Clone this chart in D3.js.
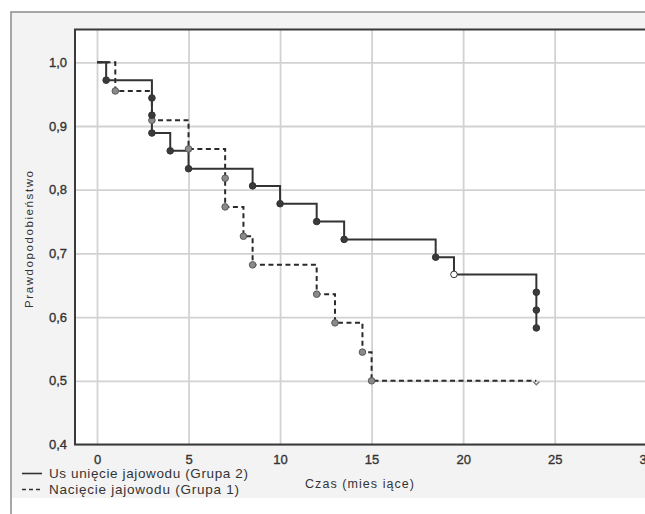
<!DOCTYPE html>
<html>
<head>
<meta charset="utf-8">
<script src="https://cdn.jsdelivr.net/npm/d3@7"></script>
<style>
  html, body { margin: 0; padding: 0; background: #ffffff; overflow: hidden; }
  svg { display: block; font-family: "Liberation Sans", Arial, sans-serif; }
</style>
</head>
<body>
<svg id="chart" width="645" height="514"></svg>
<script>
// ---- data ----
const xTicks = [0, 5, 10, 15, 20, 25, 30];
const yTicks = [0.4, 0.5, 0.6, 0.7, 0.8, 0.9, 1.0];

// Group 2: Usunięcie jajowodu (solid) – step curve
const g2Times = [0, 0.5, 3, 4, 5, 8.5, 10, 12, 13.5, 18.5, 19.5, 24];
const g2Surv  = [1, 0.972, 0.889, 0.861, 0.833, 0.806, 0.778, 0.750, 0.722, 0.694, 0.667, 0.583];
// Group 2 markers
const g2MarkT = [0.5, 3, 3, 3, 4, 5, 8.5, 10, 12, 13.5, 18.5, 19.5, 24, 24, 24];
const g2MarkS = [0.972, 0.944, 0.917, 0.889, 0.861, 0.833, 0.806, 0.778, 0.750, 0.722, 0.694, 0.667, 0.639, 0.611, 0.583];

// Group 1: Nacięcie jajowodu (dashed) – step curve
const g1Times = [0, 1, 3, 5, 7, 8, 8.5, 12, 13, 14.5, 15, 24];
const g1Surv  = [1, 0.955, 0.909, 0.864, 0.773, 0.727, 0.682, 0.636, 0.591, 0.545, 0.5, 0.5];
// Group 1 markers
const g1MarkT = [1, 3, 5, 7, 7, 8, 8.5, 12, 13, 14.5, 15];
const g1MarkS = [0.955, 0.909, 0.864, 0.818, 0.773, 0.727, 0.682, 0.636, 0.591, 0.545, 0.5];

const legendLabels = ["Us unięcie jajowodu (Grupa 2)", "Nacięcie jajowodu (Grupa 1)"];
const xTitle = "Czas  (mies iące)";
const yTitle = "Prawdopodobieństwo";

// ---- layout ----
const svg = d3.select("#chart");
const plot = { left: 75, top: 29.5, bottom: 444.5, right: 680 };

const x = d3.scaleLinear().domain([0, 30]).range([97, 646.2]);
const y = d3.scaleLinear().domain([0.4, 1.0]).range([444.5, 62.3]);

// outer panel
svg.append("rect").attr("x", 11).attr("y", 12).attr("width", 700).attr("height", 600)
  .attr("fill", "#ffffff").attr("stroke", "#8a8a8a").attr("stroke-width", 1.5);
svg.append("rect").attr("x", 12).attr("y", 13).attr("width", 700).attr("height", 485)
  .attr("fill", "#f3f3f3");

// plot area
svg.append("rect").attr("x", plot.left).attr("y", plot.top)
  .attr("width", plot.right - plot.left).attr("height", plot.bottom - plot.top)
  .attr("fill", "#ffffff");

// gridlines via axes
svg.append("g").attr("transform", `translate(0,${plot.bottom})`)
  .call(d3.axisBottom(x).tickValues(xTicks).tickSize(-(plot.bottom - plot.top)).tickFormat(""))
  .call(g => g.select(".domain").remove())
  .call(g => g.selectAll("line").attr("stroke", "#d2d2d2").attr("stroke-width", 1.8));
svg.append("g").attr("transform", `translate(${plot.left},0)`)
  .call(d3.axisLeft(y).tickValues(yTicks).tickSize(-(plot.right - plot.left)).tickFormat(""))
  .call(g => g.select(".domain").remove())
  .call(g => g.selectAll("line").attr("stroke", "#d2d2d2").attr("stroke-width", 1.8));

// frame
svg.append("path")
  .attr("d", `M${plot.right},${plot.top}H${plot.left}V${plot.bottom}H${plot.right}`)
  .attr("fill", "none").attr("stroke", "#3a3a3a").attr("stroke-width", 2);

// tick labels
const xAxis = svg.append("g").attr("transform", `translate(0,${plot.bottom})`)
  .call(d3.axisBottom(x).tickValues(xTicks).tickSize(0).tickPadding(10).tickFormat(d => String(d)));
xAxis.select(".domain").remove();
xAxis.selectAll("text").attr("font-size", 13).attr("fill", "#333")
  .attr("stroke", "#333").attr("stroke-width", 0.35)
  .attr("font-family", "Liberation Sans, Arial, sans-serif");

const yAxis = svg.append("g").attr("transform", `translate(${plot.left},0)`)
  .call(d3.axisLeft(y).tickValues(yTicks).tickSize(0).tickPadding(8)
    .tickFormat(d => d.toFixed(1).replace(".", ",")));
yAxis.select(".domain").remove();
yAxis.selectAll("text").attr("font-size", 13).attr("fill", "#333")
  .attr("stroke", "#333").attr("stroke-width", 0.35)
  .attr("font-family", "Liberation Sans, Arial, sans-serif");

// axis titles
svg.append("text").attr("x", 359.5).attr("y", 487.5).attr("text-anchor", "middle")
  .attr("font-size", 12.5).attr("fill", "#333")
  .attr("textLength", 109).attr("lengthAdjust", "spacing").text(xTitle);
svg.append("text").attr("transform", "translate(33,239.5) rotate(-90)")
  .attr("text-anchor", "middle").attr("font-size", 11.5).attr("fill", "#333")
  .attr("textLength", 137).attr("lengthAdjust", "spacing").text(yTitle);

// step curves
const line = d3.line().x(d => x(d[0])).y(d => y(d[1])).curve(d3.curveStepAfter);
const g2 = g2Times.map((t, i) => [t, g2Surv[i]]);
const g1 = g1Times.map((t, i) => [t, g1Surv[i]]);

svg.append("path").datum(g1).attr("d", line).attr("fill", "none")
  .attr("stroke", "#2a2a2a").attr("stroke-width", 2).attr("stroke-dasharray", "5,3.5");
svg.append("path").datum(g2).attr("d", line).attr("fill", "none")
  .attr("stroke", "#333").attr("stroke-width", 2);

// cap at start of solid line
svg.append("line").attr("x1", x(0)).attr("x2", x(0.65)).attr("y1", y(1)).attr("y2", y(1))
  .attr("stroke", "#333").attr("stroke-width", 2);

// markers
svg.append("g").selectAll("circle").data(g1MarkT.map((t, i) => [t, g1MarkS[i]]))
  .join("circle").attr("cx", d => x(d[0])).attr("cy", d => y(d[1])).attr("r", 3.3)
  .attr("fill", "#8a8a8a").attr("stroke", "#5a5a5a").attr("stroke-width", 1);
svg.append("path").attr("d", `M${x(24) - 3},${y(0.5) + 1}L${x(24)},${y(0.5) + 4}L${x(24) + 3},${y(0.5) + 1}`)
  .attr("fill", "none").attr("stroke", "#777").attr("stroke-width", 1.3);
svg.append("g").selectAll("circle").data(g2MarkT.map((t, i) => [t, g2MarkS[i]]))
  .join("circle").attr("cx", d => x(d[0])).attr("cy", d => y(d[1])).attr("r", 3.3)
  .attr("fill", (d, i) => (i === 11 ? "#ffffff" : "#3a3a3a"))
  .attr("stroke", "#333").attr("stroke-width", 1);

// legend
const legend = svg.append("g");
legend.append("line").attr("x1", 22).attr("x2", 42).attr("y1", 473.5).attr("y2", 473.5)
  .attr("stroke", "#333").attr("stroke-width", 1.6);
legend.append("line").attr("x1", 22).attr("x2", 42).attr("y1", 489.5).attr("y2", 489.5)
  .attr("stroke", "#333").attr("stroke-width", 1.6).attr("stroke-dasharray", "4,3");
legend.append("text").attr("x", 49).attr("y", 478).attr("font-size", 13.5).attr("fill", "#333")
  .attr("textLength", 199).attr("lengthAdjust", "spacing").text(legendLabels[0]);
legend.append("text").attr("x", 49).attr("y", 494).attr("font-size", 13.5).attr("fill", "#333")
  .attr("textLength", 190).attr("lengthAdjust", "spacing").text(legendLabels[1]);
</script>
</body>
</html>
